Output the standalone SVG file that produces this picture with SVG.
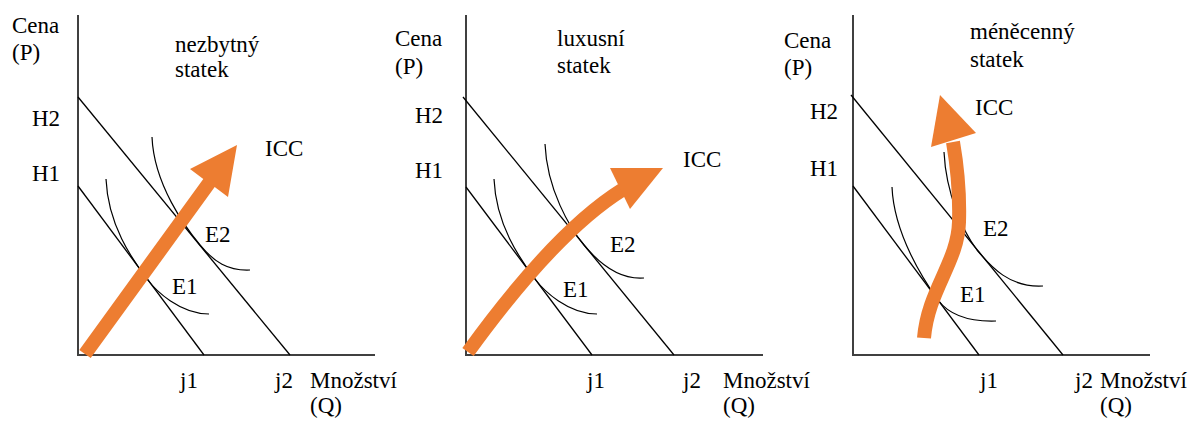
<svg xmlns="http://www.w3.org/2000/svg" width="1204" height="421" viewBox="0 0 1204 421" font-family="'Liberation Serif', Tinos, 'Times New Roman', Times, 'Nimbus Roman', 'DejaVu Serif', serif">
<style>
text{font-family:'Liberation Serif',Tinos,'Times New Roman',Times,'Nimbus Roman','DejaVu Serif',serif;font-size:23px;fill:#000}
.ax{stroke:#404040;stroke-width:2;fill:none}
.bl{stroke:#000;stroke-width:1.3;fill:none}
.ic{stroke:#000;stroke-width:1.2;fill:none}
.sh{stroke:#ED7D31;stroke-width:14;fill:none;stroke-linecap:butt}
.hd{fill:#ED7D31;stroke:none}
</style>
<rect width="1204" height="421" fill="#fff"/>
<g id="panel1">
  <g id="p1-axes">
    <path class="ax" d="M78,15 V355 H375"/>
  </g>
  <g id="p1-lines">
    <line class="bl" x1="78" y1="97" x2="290" y2="355"/>
    <line class="bl" x1="78" y1="186" x2="204" y2="355"/>
    <path class="ic" d="M152,137 C154,185 186,228 200,245 C214,262 228,271 250,270"/>
    <path class="ic" d="M106,179 C108,225 132,259 147,279 C156,291 180,314 209,314"/>
  </g>
  <g id="p1-arrow">
    <polygon class="hd" points="79.3,349.9 203.3,178.9 190,169 237,145 228,197 214.7,187.1 90.7,358.1"/>
  </g>
  <g id="p1-labels">
    <text x="12" y="33">Cena</text>
    <text x="12" y="60">(P)</text>
    <text x="175" y="52">nezbytný</text>
    <text x="175" y="77">statek</text>
    <text x="32" y="126">H2</text>
    <text x="32" y="181">H1</text>
    <text x="265" y="156">ICC</text>
    <text x="205" y="242">E2</text>
    <text x="172" y="294">E1</text>
    <text x="180" y="388">j1</text>
    <text x="275" y="388">j2</text>
    <text x="310" y="388">Množství</text>
    <text x="310" y="413">(Q)</text>
  </g>
</g>
<g id="panel2">
  <g id="p2-axes">
    <path class="ax" d="M466,15 V355 H763"/>
  </g>
  <g id="p2-lines">
    <line class="bl" x1="463" y1="97" x2="674" y2="355"/>
    <line class="bl" x1="466" y1="187" x2="592" y2="355"/>
    <path class="ic" d="M545,144 C547,190 570,228 584,245 C598,262 618,280 644,278"/>
    <path class="ic" d="M494,179 C496,225 520,259 535,279 C544,291 568,314 597,314"/>
  </g>
  <g id="p2-arrow">
    <path class="sh" d="M468,352 Q555,232 622,190"/>
    <polygon class="hd" points="610,168 663,168 630,209"/>
  </g>
  <g id="p2-labels">
    <text x="395" y="46">Cena</text>
    <text x="395" y="74">(P)</text>
    <text x="557" y="46">luxusní</text>
    <text x="557" y="73">statek</text>
    <text x="415" y="123">H2</text>
    <text x="415" y="178">H1</text>
    <text x="683" y="167">ICC</text>
    <text x="610" y="252">E2</text>
    <text x="563" y="297">E1</text>
    <text x="587" y="388">j1</text>
    <text x="683" y="388">j2</text>
    <text x="723" y="388">Množství</text>
    <text x="723" y="413">(Q)</text>
  </g>
</g>
<g id="panel3">
  <g id="p3-axes">
    <path class="ax" d="M853,15 V355 H1150"/>
  </g>
  <g id="p3-lines">
    <line class="bl" x1="851" y1="95" x2="1063" y2="355"/>
    <line class="bl" x1="853" y1="186" x2="979" y2="355"/>
    <path class="ic" d="M944,152 C946,195 964,233 977,250 C991,267 1010,288 1043,286"/>
    <path class="ic" d="M892,187 C894,235 925,282 938,300 C947,312 965,322 996,321"/>
  </g>
  <g id="p3-arrow">
    <path class="sh" d="M924,338 C928,290 958,262 959,222 C960,190 957,165 953,142"/>
    <polygon class="hd" points="931,147 940,95 976,133"/>
  </g>
  <g id="p3-labels">
    <text x="784" y="48">Cena</text>
    <text x="784" y="75">(P)</text>
    <text x="970" y="39">méněcenný</text>
    <text x="970" y="67">statek</text>
    <text x="810" y="119">H2</text>
    <text x="810" y="176">H1</text>
    <text x="975" y="115">ICC</text>
    <text x="983" y="236">E2</text>
    <text x="960" y="302">E1</text>
    <text x="980" y="388">j1</text>
    <text x="1075" y="388">j2</text>
    <text x="1100" y="388">Množství</text>
    <text x="1100" y="413">(Q)</text>
  </g>
</g>
</svg>
